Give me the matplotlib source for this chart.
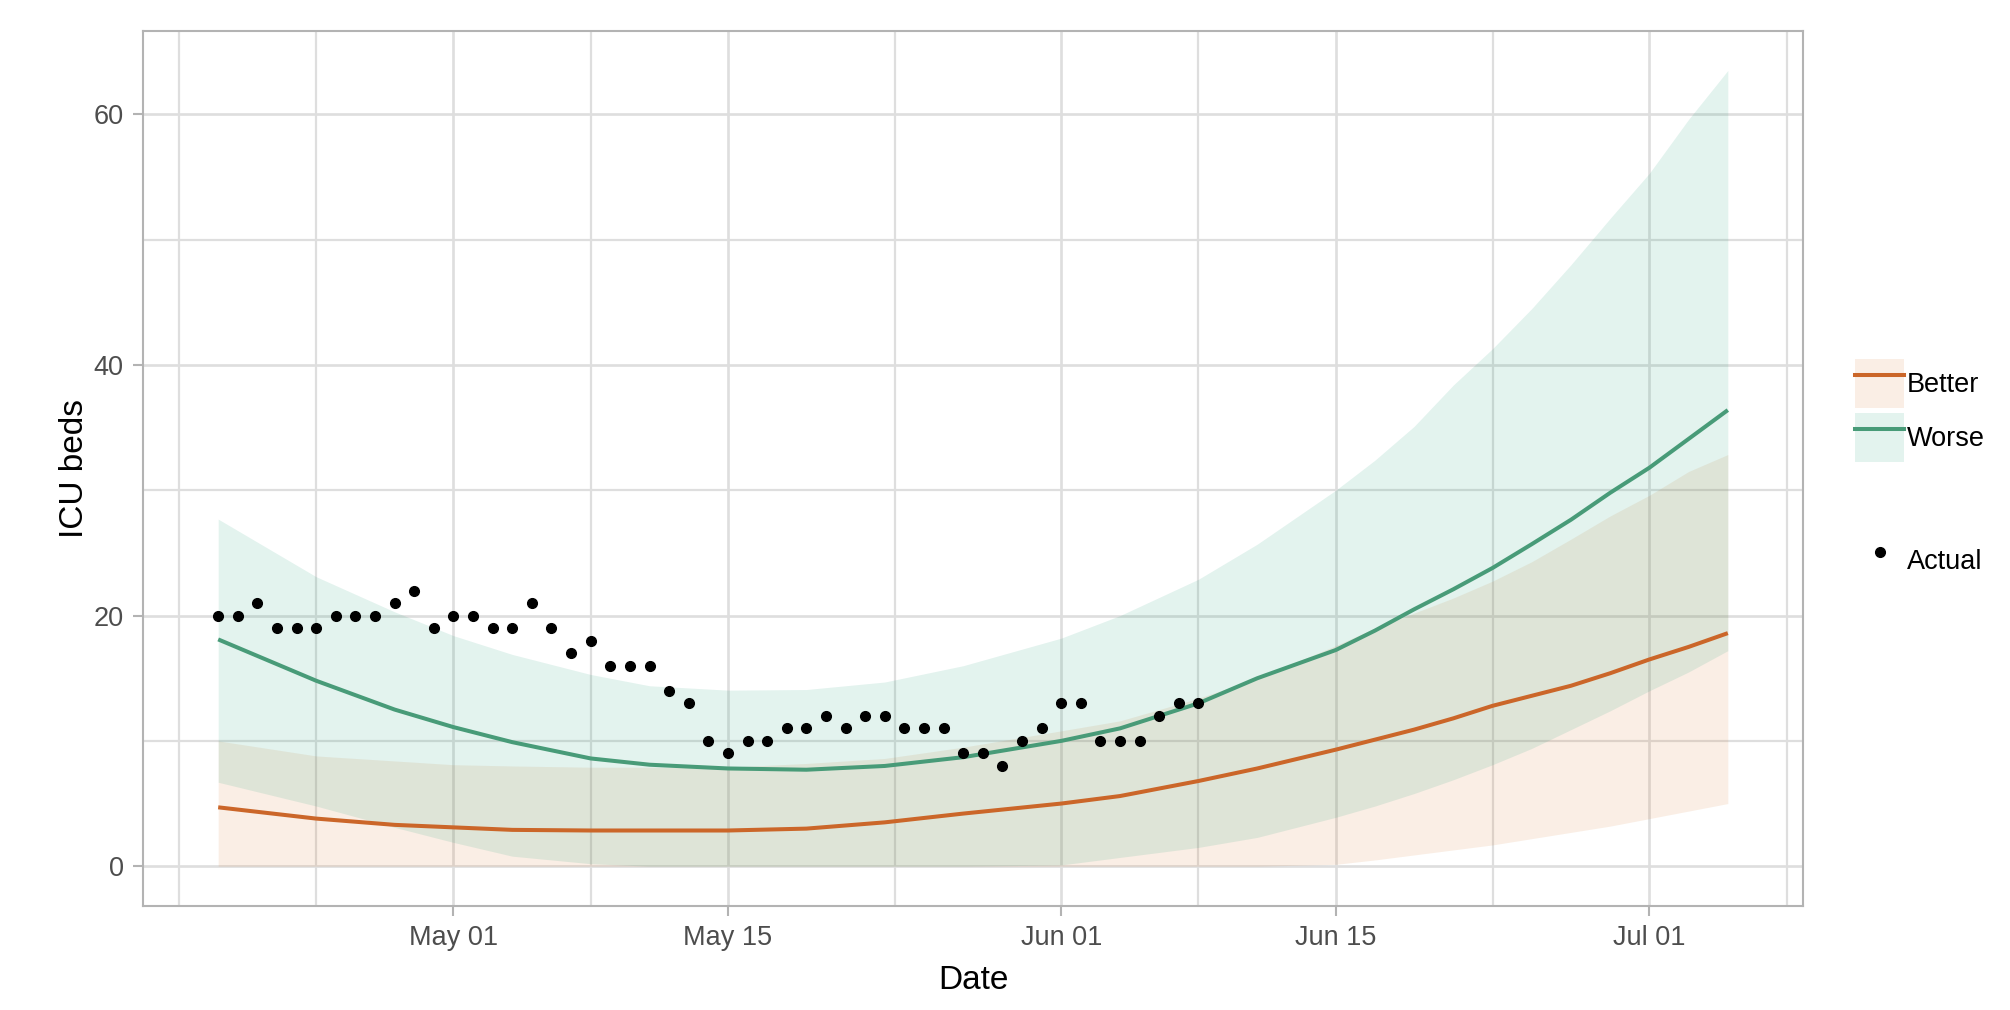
import numpy as np
import pandas as pd
import matplotlib
matplotlib.use("Agg")
import matplotlib.pyplot as plt
import matplotlib.dates as mdates
from matplotlib.lines import Line2D
from matplotlib.patches import Patch

plt.rcParams["font.family"] = ["Liberation Sans", "DejaVu Sans"]

# observed ICU beds, one value per day from the start date
ACTUAL_START = "2020-04-19"
ACTUAL = [20, 20, 21, 19, 19, 19, 20, 20, 20, 21, 22, 19,
          20, 20, 19, 19, 21, 19, 17, 18, 16, 16, 16, 14, 13, 10, 9, 10, 10, 11, 11,
          12, 11, 12, 12, 11, 11, 11, 9, 9, 8, 10, 11,
          13, 13, 10, 10, 10, 12, 13, 13]

# scenario curves, read at these dates
CURVE_DATES = ["2020-04-19", "2020-04-24", "2020-04-28", "2020-05-01", "2020-05-04",
               "2020-05-08", "2020-05-11", "2020-05-15", "2020-05-19", "2020-05-23",
               "2020-05-27", "2020-06-01", "2020-06-04", "2020-06-08", "2020-06-11",
               "2020-06-15", "2020-06-17", "2020-06-19", "2020-06-21", "2020-06-23",
               "2020-06-25", "2020-06-27", "2020-06-29", "2020-07-01", "2020-07-03",
               "2020-07-05"]

BETTER_MID = [4.7, 3.8, 3.3, 3.1, 2.9, 2.85, 2.85, 2.85, 3.0, 3.5, 4.2,
              5.0, 5.6, 6.8, 7.8, 9.3, 10.1, 10.9, 11.8, 12.8,
              13.6, 14.4, 15.4, 16.5, 17.5, 18.6]
BETTER_LO = [0, 0, 0, 0, 0, 0, 0, 0, 0, 0, 0,
             0, 0, 0, 0, 0.15, 0.5, 0.9, 1.3, 1.7,
             2.2, 2.7, 3.2, 3.8, 4.4, 5.0]
BETTER_HI = [10.0, 8.8, 8.4, 8.1, 8.0, 7.9, 7.9, 7.9, 8.2, 8.6, 9.5,
             10.8, 11.6, 13.4, 15.0, 17.6, 19.0, 20.2, 21.4, 22.75,
             24.3, 26.1, 27.95, 29.6, 31.5, 32.85]

WORSE_MID = [18.1, 14.8, 12.5, 11.1, 9.9, 8.6, 8.1, 7.8, 7.7, 8.0, 8.7,
             10.0, 11.0, 13.0, 15.0, 17.25, 18.8, 20.5, 22.1, 23.8,
             25.7, 27.65, 29.8, 31.8, 34.1, 36.4]
WORSE_LO = [6.7, 4.8, 3.1, 1.9, 0.8, 0.2, 0, 0, 0, 0, 0,
            0.1, 0.7, 1.5, 2.3, 3.9, 4.8, 5.8, 6.9, 8.1,
            9.4, 10.9, 12.4, 14.0, 15.5, 17.2]
WORSE_HI = [27.7, 23.1, 20.3, 18.4, 16.9, 15.3, 14.4, 14.05, 14.1, 14.7, 16.0,
            18.2, 20.0, 22.9, 25.7, 30.0, 32.4, 35.1, 38.4, 41.3,
            44.5, 48.0, 51.7, 55.3, 59.6, 63.5]

MAJOR_DATES = ["2020-05-01 00:00", "2020-05-15 00:00", "2020-06-01 00:00",
               "2020-06-15 00:00", "2020-07-01 00:00"]
MINOR_DATES = ["2020-04-17 00:00", "2020-04-24 00:00", "2020-05-08 00:00",
               "2020-05-23 12:00", "2020-06-08 00:00", "2020-06-23 00:00",
               "2020-07-08 00:00"]

ORANGE = "#CB6629"
GREEN = "#489B78"
ORANGE_FILL = "#D9782A"
GREEN_FILL = "#1B9E77"
GRID = "#DEDEDE"
FRAME = "#B3B3B3"

W, H = 2010, 1010
fig = plt.figure(figsize=(W / 100, H / 100), dpi=100)
ax = fig.add_axes([142.7 / W, 1 - 906 / H, (1803.3 - 142.7) / W, (906 - 30.7) / H])

cd = pd.to_datetime(CURVE_DATES)
ad = pd.date_range(ACTUAL_START, periods=len(ACTUAL), freq="D")

ax.fill_between(cd, BETTER_LO, BETTER_HI, color=ORANGE_FILL, alpha=0.12, lw=0, zorder=2)
ax.fill_between(cd, WORSE_LO, WORSE_HI, color=GREEN_FILL, alpha=0.12, lw=0, zorder=2)
ax.plot(cd, BETTER_MID, color=ORANGE, lw=2.9, zorder=3, solid_capstyle="butt")
ax.plot(cd, WORSE_MID, color=GREEN, lw=2.9, zorder=3, solid_capstyle="butt")
ax.plot(ad, ACTUAL, ls="none", marker="o", ms=7, color="black", zorder=4)

# axes limits with ggplot-style 5% expansion
x0, x1 = mdates.date2num(cd[0]), mdates.date2num(cd[-1])
ax.set_xlim(x0 - 0.05 * (x1 - x0), x1 + 0.05 * (x1 - x0))
ax.set_ylim(-0.05 * 63.5, 63.5 * 1.05)

ax.set_xticks(pd.to_datetime(MAJOR_DATES))
ax.set_xticks(pd.to_datetime(MINOR_DATES), minor=True)
ax.xaxis.set_major_formatter(mdates.DateFormatter("%b %d"))
ax.set_yticks([0, 20, 40, 60])
ax.set_yticks([10, 30, 50], minor=True)

ax.grid(which="major", color=GRID, lw=1.9, zorder=0)
ax.grid(which="minor", color=GRID, lw=1.6, zorder=0)
ax.set_axisbelow(True)
for s in ax.spines.values():
    s.set_color(FRAME)
    s.set_linewidth(1.5)
ax.tick_params(which="major", length=7.2, width=1.5, color=FRAME,
               labelsize=19.5, labelcolor="#4D4D4D", pad=6.5)
ax.tick_params(which="minor", length=0)

ax.set_xlabel("Date", fontsize=24, labelpad=10)
ax.set_ylabel("ICU beds", fontsize=24, labelpad=2.5)

# legends: square keys of 49 px
fs_px = 19.5 * 100 / 72
box = 49 / fs_px
hh = (box - 0.245) / 0.65
h_better = (Patch(facecolor=ORANGE_FILL, alpha=0.12, lw=0), Line2D([], [], color=ORANGE, lw=2.9))
h_worse = (Patch(facecolor=GREEN_FILL, alpha=0.12, lw=0), Line2D([], [], color=GREEN, lw=2.9))
leg1 = fig.legend([h_better, h_worse], ["Better", "Worse"], loc="upper left",
                  bbox_to_anchor=(1855 / W, 1 - 359 / H), frameon=False,
                  fontsize=19.5, handlelength=box, handleheight=hh, handletextpad=0.1,
                  labelspacing=5 / fs_px, borderpad=0, borderaxespad=0)
h_actual = Line2D([], [], ls="none", marker="o", ms=7, color="black")
leg2 = fig.legend([h_actual], ["Actual"], loc="upper left",
                  bbox_to_anchor=(1855 / W, 1 - 536 / H), frameon=False,
                  fontsize=19.5, handlelength=box, handleheight=hh, handletextpad=0.1,
                  borderpad=0, borderaxespad=0)

fig.savefig("out.png", dpi=100)
